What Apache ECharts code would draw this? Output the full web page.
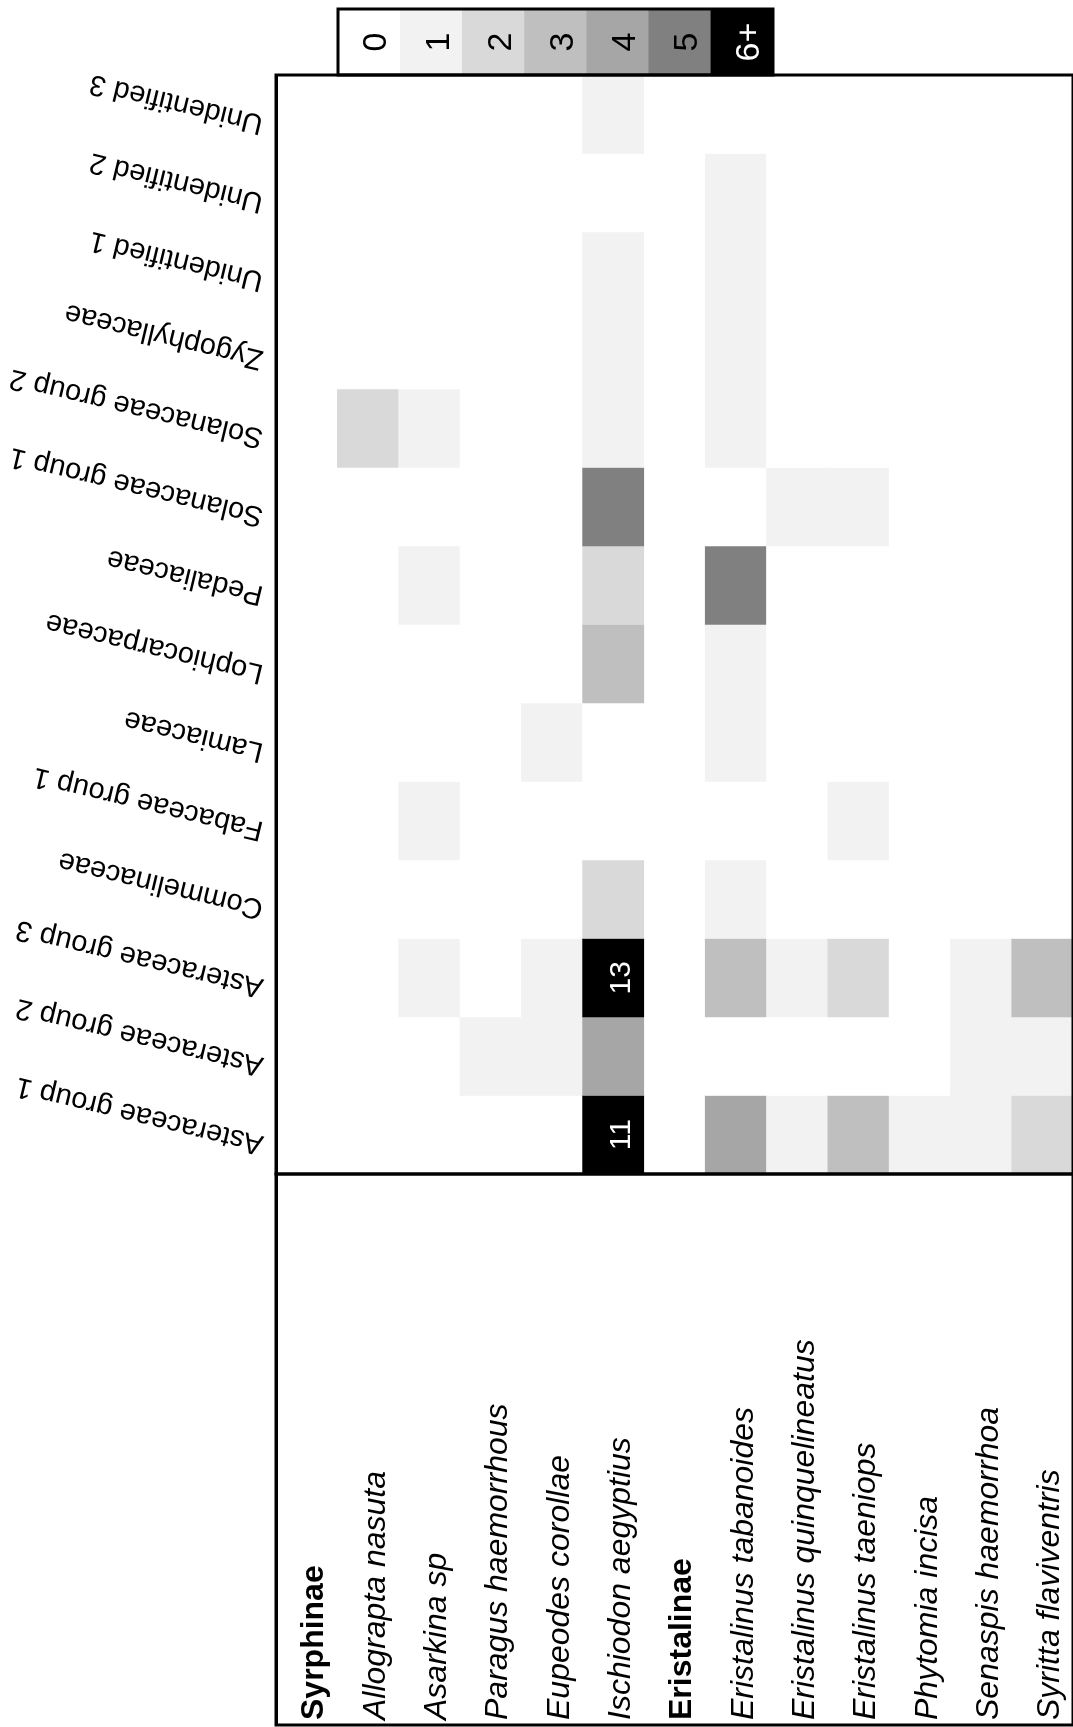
<!DOCTYPE html>
<html>
<head>
<meta charset="utf-8">
<script src="https://cdn.jsdelivr.net/npm/echarts@6/dist/echarts.min.js"></script>
<style>
  html, body { margin: 0; padding: 0; background: #ffffff; }
  #chart { width: 1073px; height: 1727px; }
</style>
</head>
<body>
<div id="chart"></div>
<script>
// Plant families, bottom row first
const plantFamilies = [
  'Asteraceae group 1', 'Asteraceae group 2', 'Asteraceae group 3',
  'Commelinaceae', 'Fabaceae group 1', 'Lamiaceae', 'Lophiocarpaceae',
  'Pedaliaceae', 'Solanaceae group 1', 'Solanaceae group 2',
  'Zygophyllaceae', 'Unidentified 1', 'Unidentified 2', 'Unidentified 3'
];

// Hoverfly columns, left to right (subfamily headings included)
const hoverflyColumns = [
  'Syrphinae', 'Allograpta nasuta', 'Asarkina sp', 'Paragus haemorrhous',
  'Eupeodes corollae', 'Ischiodon aegyptius',
  'Eristalinae', 'Eristalinus tabanoides', 'Eristalinus quinquelineatus',
  'Eristalinus taeniops', 'Phytomia incisa', 'Senaspis haemorrhoa',
  'Syritta flaviventris'
];
const subfamilyHeadings = ['Syrphinae', 'Eristalinae'];

// Visit counts per species, in plantFamilies order
const allograptaNasuta           = [0, 0, 0, 0, 0, 0, 0, 0, 0, 2, 0, 0, 0, 0];
const asarkinaSp                 = [0, 0, 1, 0, 1, 0, 0, 1, 0, 1, 0, 0, 0, 0];
const paragusHaemorrhous         = [0, 1, 0, 0, 0, 0, 0, 0, 0, 0, 0, 0, 0, 0];
const eupeodesCorollae           = [0, 1, 1, 0, 0, 1, 0, 0, 0, 0, 0, 0, 0, 0];
const ischiodonAegyptius         = [11, 4, 13, 2, 0, 0, 3, 2, 5, 1, 1, 1, 0, 1];
const eristalinusTabanoides      = [4, 0, 3, 1, 0, 1, 1, 5, 0, 1, 1, 1, 1, 0];
const eristalinusQuinquelineatus = [1, 0, 1, 0, 0, 0, 0, 0, 1, 0, 0, 0, 0, 0];
const eristalinusTaeniops        = [3, 0, 2, 0, 1, 0, 0, 0, 1, 0, 0, 0, 0, 0];
const phytomiaIncisa             = [1, 0, 0, 0, 0, 0, 0, 0, 0, 0, 0, 0, 0, 0];
const senaspisHaemorrhoa         = [1, 1, 1, 0, 0, 0, 0, 0, 0, 0, 0, 0, 0, 0];
const syrittaFlaviventris        = [2, 1, 3, 0, 0, 0, 0, 0, 0, 0, 0, 0, 0, 0];

const countsBySpecies = {
  'Allograpta nasuta': allograptaNasuta,
  'Asarkina sp': asarkinaSp,
  'Paragus haemorrhous': paragusHaemorrhous,
  'Eupeodes corollae': eupeodesCorollae,
  'Ischiodon aegyptius': ischiodonAegyptius,
  'Eristalinus tabanoides': eristalinusTabanoides,
  'Eristalinus quinquelineatus': eristalinusQuinquelineatus,
  'Eristalinus taeniops': eristalinusTaeniops,
  'Phytomia incisa': phytomiaIncisa,
  'Senaspis haemorrhoa': senaspisHaemorrhoa,
  'Syritta flaviventris': syrittaFlaviventris
};

// Colour key classes
const legendLabels = ['0', '1', '2', '3', '4', '5', '6+'];
const legendValues = [0, 1, 2, 3, 4, 5, 6];
const shadeColors = ['#ffffff', '#f2f2f2', '#d9d9d9', '#bfbfbf', '#a6a6a6', '#808080', '#000000'];

const FONT = '"Liberation Sans", Arial, Helvetica, sans-serif';

// heatmap cells
const cellData = [];
hoverflyColumns.forEach(function (species, xi) {
  const counts = countsBySpecies[species];
  if (!counts) return;
  counts.forEach(function (v, yi) {
    cellData.push([xi, yi, v]);
  });
});

// key cells
const keyData = legendValues.map(function (v, i) {
  return { value: [i, 0, v] };
});

// vertical rule between the two subfamilies
const separator = function (index, value) { return value === 'Eristalinae'; };

const chart = echarts.init(document.getElementById('chart'), null, { renderer: 'canvas' });

chart.setOption({
  animation: false,
  backgroundColor: '#ffffff',
  grid: [
    { left: 276, top: 75, width: 806, height: 1099, show: true, z: 5,
      borderColor: '#000', borderWidth: 3, backgroundColor: 'transparent' },
    { left: 276, top: 1174, width: 806, height: 551, show: true, z: 5,
      borderColor: '#000', borderWidth: 3, backgroundColor: 'transparent' },
    { left: 338, top: 9, width: 435, height: 66, show: true, z: 5,
      borderColor: '#000', borderWidth: 3, backgroundColor: 'transparent' }
  ],
  visualMap: {
    type: 'piecewise', show: false, dimension: 2, seriesIndex: [0, 1],
    pieces: legendValues.map(function (v, i) {
      return v >= 6 ? { gte: v, color: shadeColors[i] } : { value: v, color: shadeColors[i] };
    })
  },
  xAxis: [
    { type: 'category', gridIndex: 0, data: hoverflyColumns, z: 6,
      axisLine: { show: false }, axisTick: { show: false }, axisLabel: { show: false },
      splitLine: { show: true, interval: separator, lineStyle: { color: '#000', width: 3 } } },
    { type: 'category', gridIndex: 1, data: hoverflyColumns, position: 'bottom', z: 6,
      axisLine: { show: false }, axisTick: { show: false },
      splitLine: { show: true, interval: separator, lineStyle: { color: '#000', width: 3 } },
      axisLabel: {
        interval: 0, inside: true, rotate: 90, margin: 5, align: 'left', verticalAlign: 'middle',
        padding: [16, 0, 0, 0],
        fontFamily: FONT, fontSize: 32, color: '#000',
        formatter: function (v) {
          return subfamilyHeadings.indexOf(v) >= 0 ? '{h|' + v + '}' : '{s|' + v + '}';
        },
        rich: {
          h: { fontFamily: FONT, fontSize: 32, fontWeight: 'bold', color: '#000' },
          s: { fontFamily: FONT, fontSize: 32, fontStyle: 'italic', color: '#000' }
        }
      } },
    { type: 'category', gridIndex: 2, data: legendLabels, show: false }
  ],
  yAxis: [
    { type: 'category', gridIndex: 0, data: plantFamilies,
      axisLine: { show: false }, axisTick: { show: false }, splitLine: { show: false },
      axisLabel: {
        interval: 0, rotate: 166.5, margin: 11, align: 'left', verticalAlign: 'middle',
        padding: [0, 0, 20, 0],
        fontFamily: FONT, fontSize: 29, color: '#000',
        formatter: function (v) { return '{p|' + v + '}'; },
        rich: { p: { fontFamily: FONT, fontSize: 29, color: '#000' } }
      } },
    { type: 'value', gridIndex: 1, show: false },
    { type: 'category', gridIndex: 2, data: [''], show: false }
  ],
  series: [
    { type: 'heatmap', xAxisIndex: 0, yAxisIndex: 0, data: cellData,
      label: {
        show: true, rotate: 90, fontFamily: FONT, fontSize: 30,
        padding: [18, 0, 0, 0],
        formatter: function (p) { return p.value[2] >= 6 ? '{n|' + p.value[2] + '}' : ''; },
        rich: { n: { fontFamily: FONT, fontSize: 30, color: '#ffffff' } }
      },
      emphasis: { disabled: true } },
    { type: 'heatmap', xAxisIndex: 2, yAxisIndex: 2, data: keyData,
      label: {
        show: true, rotate: 90, fontFamily: FONT, fontSize: 34,
        padding: [16, 0, 0, 0],
        formatter: function (p) {
          return (p.value[2] >= 6 ? '{w|' : '{k|') + legendLabels[p.dataIndex] + '}';
        },
        rich: {
          k: { fontFamily: FONT, fontSize: 34, color: '#000000' },
          w: { fontFamily: FONT, fontSize: 34, color: '#ffffff' }
        }
      },
      emphasis: { disabled: true } }
  ]
});
</script>
</body>
</html>
